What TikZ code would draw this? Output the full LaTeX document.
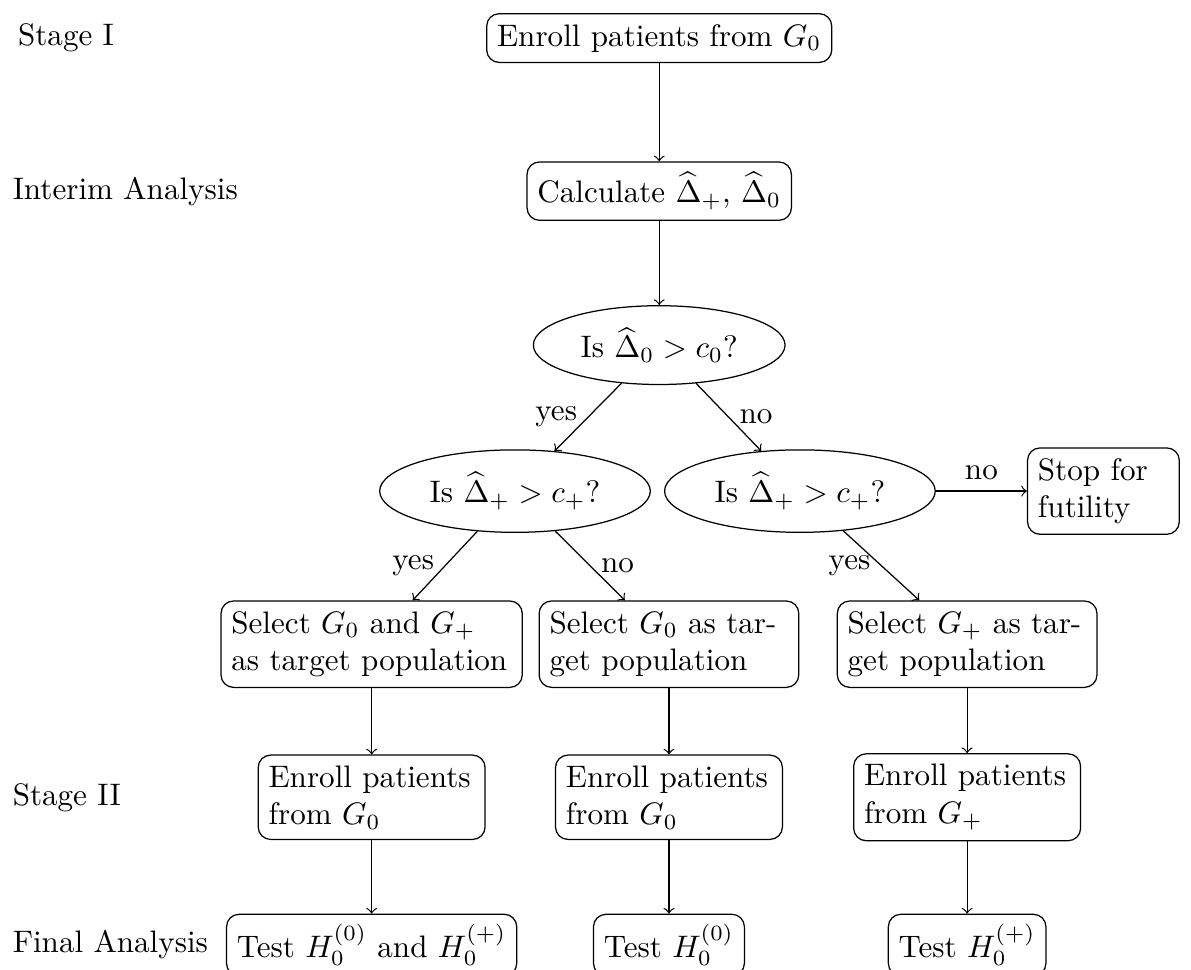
\documentclass[tikz,border=0pt]{standalone}
\usetikzlibrary{shapes.geometric}
\begin{document}
\begin{tikzpicture}[>=to,
	box/.style={draw, rounded corners},
	wbox/.style={draw, rounded corners, align=left, text width=#1},
	quest/.style={draw, ellipse},
	stage/.style={anchor=west}]
			\useasboundingbox (0,0) rectangle (13.46,-10.96);
			\node[stage] (s1) at (0.08,-0.43) {Stage I};
			\node[stage] (ia) at (0.02,-2.16) {Interim Analysis};
			\node[stage] (s2) at (0.02,-9.01) {Stage II};
			\node[stage] (fa) at (0.02,-10.68) {Final Analysis};
			\node[box] (enroll) at (7.45,-0.43) {Enroll patients from $G_0$};
			\node[box] (calc) at (7.45,-2.16) {Calculate $\widehat{\Delta}_+$, $\widehat{\Delta}_0$};
			\node[quest] (q0) at (7.45,-3.90) {Is $\widehat{\Delta}_0 > c_0$?};
			\node[quest] (qa) at (5.82,-5.55) {Is $\widehat{\Delta}_+ > c_+$?};
			\node[quest] (qb) at (9.04,-5.55) {Is $\widehat{\Delta}_+ > c_+$?};
			\node[wbox=1.48cm] (stop) at (12.47,-5.55) {Stop for futility};
			\node[wbox=3.17cm] (sel1) at (4.20,-7.28) {Select $G_0$ and $G_+$ as target population};
			\node[wbox=2.70cm] (sel2) at (7.56,-7.28) {Select $G_0$ as target population};
			\node[wbox=2.70cm] (sel3) at (10.93,-7.28) {Select $G_+$ as target population};
			\foreach \i\x\g in {1/4.20/0,2/7.56/0,3/10.93/+}{
				\node[wbox=2.33cm] (en\i) at (\x,-9.01) {Enroll patients from $G_\g$};
			}
			\node[box] (t1) at (4.20,-10.68) {Test $H_0^{(0)}$ and $H_0^{(+)}$};
			\node[box] (t2) at (7.56,-10.68) {Test $H_0^{(0)}$};
			\node[box] (t3) at (10.93,-10.68) {Test $H_0^{(+)}$};
			\draw[->] (enroll) -- (calc);
			\draw[->] (calc) -- (q0);
			\draw[->] (q0) -- node[left] {yes} (qa);
			\draw[->] (q0) -- node[right] {no} (qb);
			\draw[->] (qb) -- node[above] {no} (stop);
			\draw[->] (qa) -- node[left] {yes} (sel1);
			\draw[->] (qa) -- node[right] {no} (sel2);
			\draw[->] (qb) -- node[left] {yes} (sel3);
			\foreach \i in {1,2,3}{
				\draw[->] (sel\i) -- (en\i);
				\draw[->] (en\i) -- (t\i);
			}
		\end{tikzpicture}
\end{document}
